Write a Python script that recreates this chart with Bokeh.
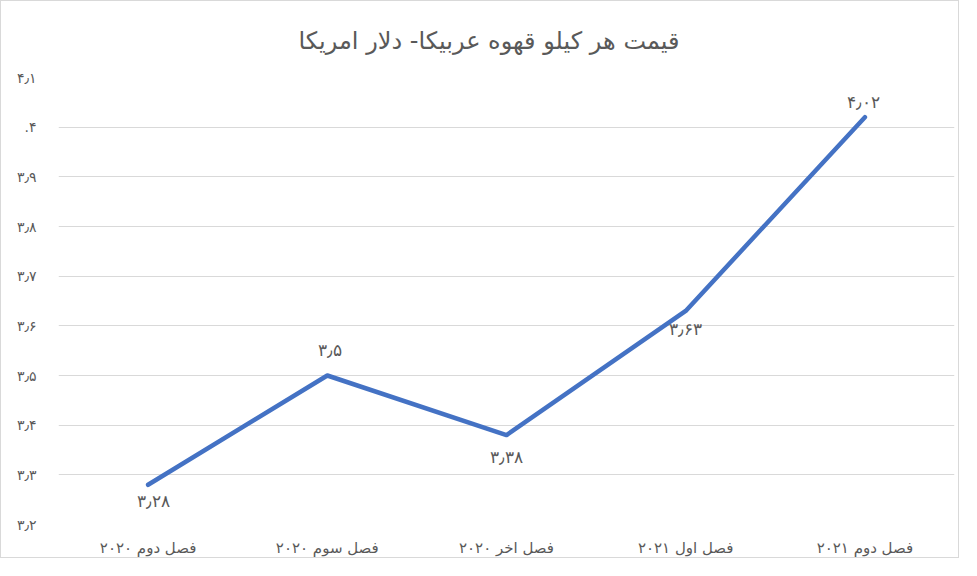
from bokeh.plotting import figure
from bokeh.models import FactorRange, FixedTicker, Range1d, Title, ColumnDataSource, LabelSet
from bokeh.embed import file_html
from bokeh.resources import INLINE

# ---- data ----
categories = ["فصل دوم ۲۰۲۰", "فصل سوم ۲۰۲۰", "فصل اخر ۲۰۲۰", "فصل اول ۲۰۲۱", "فصل دوم ۲۰۲۱"]
prices = [3.28, 3.50, 3.38, 3.63, 4.02]
price_labels = ["۳٫۲۸", "۳٫۵", "۳٫۳۸", "۳٫۶۳", "۴٫۰۲"]
y_ticks = [3.2, 3.3, 3.4, 3.5, 3.6, 3.7, 3.8, 3.9, 4.0, 4.1]
y_tick_labels = ["۳٫۲", "۳٫۳", "۳٫۴", "۳٫۵", "۳٫۶", "۳٫۷", "۳٫۸", "۳٫۹", ".۴", "۴٫۱"]
title_text = "قیمت هر کیلو قهوه عربیکا- دلار امریکا"

# ---- styling (label placement) ----
label_dx = [5, 3, 0, 0, -1]
label_dy = [-17, 25, -22, -19, 15]

FONT = "DejaVu Sans"
GRAY = "#595959"

p = figure(width=959, height=558, output_backend="svg", toolbar_location=None,
           x_range=FactorRange(*categories, range_padding=0),
           y_range=Range1d(3.2, 4.1),
           min_border_left=57, min_border_right=6, min_border_top=74, min_border_bottom=31,
           background_fill_color="white", border_fill_color="white")
p.outline_line_color = None
p.styles = {"border": "1px solid #D9D9D9"}

t = Title(text=title_text, align="left", vertical_align="bottom", text_font=FONT,
          text_font_size="24px", text_line_height=1.0,
          text_color=GRAY, text_font_style="normal", offset=240, standoff=46)
p.add_layout(t, "above")

p.line(x=categories, y=prices, line_color="#4472C4", line_width=4.5,
       line_join="round", line_cap="round")

src = ColumnDataSource(dict(x=categories, y=prices, t=price_labels, dx=label_dx, dy=label_dy))
labels = LabelSet(x="x", y="y", text="t", x_offset="dx", y_offset="dy", source=src,
                  text_align="center", text_baseline="middle", text_font=FONT,
                  text_font_size="17px", text_color=GRAY)
p.add_layout(labels)

p.yaxis.ticker = FixedTicker(ticks=y_ticks)
p.yaxis.major_label_overrides = {v: s for v, s in zip(y_ticks, y_tick_labels)}
for ax in (p.xaxis, p.yaxis):
    ax.axis_line_color = None
    ax.major_tick_line_color = None
    ax.minor_tick_line_color = None
    ax.major_label_text_font = FONT
    ax.major_label_text_color = GRAY
p.yaxis.major_label_text_font_size = "14px"
p.yaxis.major_label_standoff = 16
p.xaxis.major_label_text_font_size = "15px"
p.xaxis.major_label_standoff = 8

p.xgrid.grid_line_color = None
p.ygrid.grid_line_color = "#D9D9D9"
p.ygrid.grid_line_width = 1

open("out.html", "w").write(file_html(p, INLINE))
